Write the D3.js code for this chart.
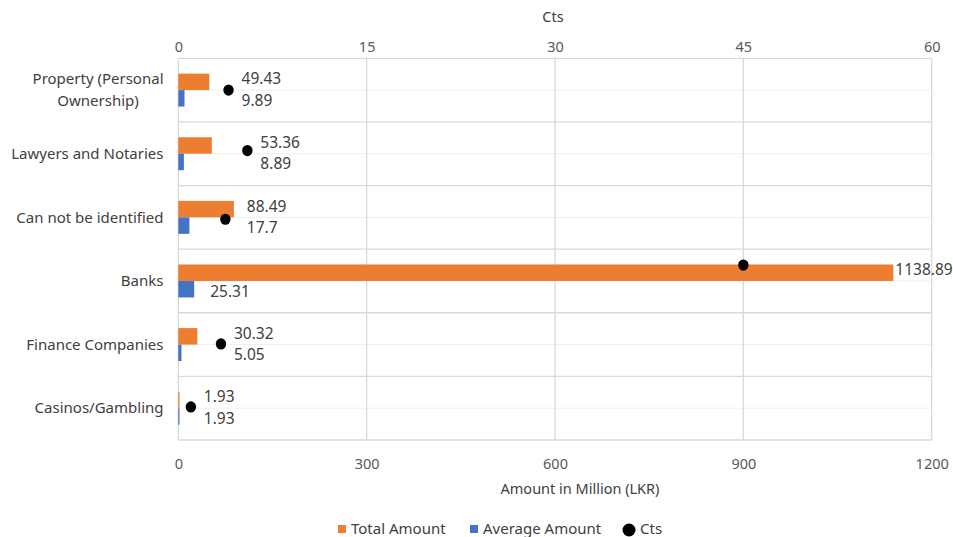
<!DOCTYPE html>
<html>
<head>
<meta charset="utf-8">
<script src="https://cdn.jsdelivr.net/npm/d3@7"></script>
<style>
  body { margin: 0; background: #fff; }
  text { font-family: "Noto Sans", sans-serif; }
</style>
</head>
<body>
<svg id="chart" width="953" height="537"></svg>
<script>
// Sectors, in display order (top to bottom)
const categories = [
  "Property (Personal Ownership)",
  "Lawyers and Notaries",
  "Can not be identified",
  "Banks",
  "Finance Companies",
  "Casinos/Gambling"
];
// Amounts in million LKR
const totalAmount   = [49.43, 53.36, 88.49, 1138.89, 30.32, 1.93];
const averageAmount = [9.89, 8.89, 17.7, 25.31, 5.05, 1.93];
// Cts series (secondary axis) and its vertical level on a 0–6 secondary scale
const cts      = [4, 5.5, 3.75, 45, 3.4, 1];
const ctsLevel = [5.5, 4.55, 3.47, 2.75, 1.51, 0.52];
// Axis ticks
const amountTicks = [0, 300, 600, 900, 1200];
const ctsTicks    = [0, 15, 30, 45, 60];
const seriesNames = ["Total Amount", "Average Amount", "Cts"];

const ORANGE = "#ED7D31", BLUE = "#4472C4", GRID = "#d9d9d9", TEXT = "#404040", TICK = "#595959";

const svg = d3.select("#chart");
const plot = { left: 178.3, right: 931.7, top: 58.3, bottom: 440 };

const x = d3.scaleLinear().domain([0, 1200]).range([plot.left, plot.right]);
const xCts = d3.scaleLinear().domain([0, 60]).range([plot.left, plot.right]);
const y0 = d3.scaleBand().domain(categories).range([plot.top, plot.bottom]);
const y1 = d3.scaleBand().domain(["total", "avg"]).range([0, y0.bandwidth()]).paddingOuter(0.93);
const yLevel = d3.scaleLinear().domain([0, 6]).range([plot.bottom, plot.top]);

// Faint centre lines of each category band
svg.append("g").selectAll("line").data(categories).join("line")
  .attr("x1", plot.left).attr("x2", plot.right)
  .attr("y1", d => y0(d) + y0.bandwidth() / 2).attr("y2", d => y0(d) + y0.bandwidth() / 2)
  .attr("stroke", "#efefef").attr("stroke-width", 1);

// Category separators and plot frame
const sepYs = categories.map(d => y0(d)).concat([plot.bottom]);
svg.append("g").selectAll("line").data(sepYs).join("line")
  .attr("x1", plot.left).attr("x2", plot.right)
  .attr("y1", d => d).attr("y2", d => d)
  .attr("stroke", GRID).attr("stroke-width", 1.3);
svg.append("g").selectAll("line").data(amountTicks).join("line")
  .attr("x1", d => x(d)).attr("x2", d => x(d))
  .attr("y1", plot.top).attr("y2", plot.bottom)
  .attr("stroke", GRID).attr("stroke-width", 1.3);

// Bars
const rows = categories.map((c, i) => ({
  cat: c, total: totalAmount[i], avg: averageAmount[i], cts: cts[i], level: ctsLevel[i]
}));
const barH = y1.bandwidth();
svg.append("g").selectAll("rect").data(rows).join("rect")
  .attr("x", x(0)).attr("y", d => y0(d.cat) + y1("total"))
  .attr("width", d => x(d.total) - x(0)).attr("height", barH)
  .attr("fill", ORANGE);
svg.append("g").selectAll("rect").data(rows).join("rect")
  .attr("x", x(0)).attr("y", d => y0(d.cat) + y1("avg"))
  .attr("width", d => x(d.avg) - x(0)).attr("height", barH)
  .attr("fill", BLUE);

// Cts markers
svg.append("g").selectAll("ellipse").data(rows).join("ellipse")
  .attr("cx", d => xCts(d.cts)).attr("cy", d => yLevel(d.level))
  .attr("rx", 5.2).attr("ry", 5.6).attr("fill", "#000");

// Value labels: placed clear of the Cts marker when it sits near the bar ends
function labelX(d, which) {
  const totalEnd = x(d.total), avgEnd = x(d.avg), dotX = xCts(d.cts);
  if (Math.abs(dotX - totalEnd) < 100) return Math.max(totalEnd, avgEnd, dotX) + 13;
  return which === "total" ? totalEnd + 2 : avgEnd + 16;
}
const lab = svg.append("g").attr("font-size", "15.5px").attr("fill", TEXT);
lab.selectAll("text.t").data(rows).join("text").attr("class", "t")
  .attr("x", d => labelX(d, "total"))
  .attr("y", d => y0(d.cat) + y1("total") + barH / 2 - 3)
  .attr("dy", "0.35em").text(d => d.total);
lab.selectAll("text.a").data(rows).join("text").attr("class", "a")
  .attr("x", d => labelX(d, "avg"))
  .attr("y", d => y0(d.cat) + y1("avg") + barH / 2 + 2)
  .attr("dy", "0.35em").text(d => d.avg);

// Category labels, wrapped to fit the left margin; wrapped lines are centred as a block
const labelRight = 163.5;
const catG = svg.append("g").attr("font-size", "15px").attr("fill", TEXT);
categories.forEach(c => {
  const probe = catG.append("text").attr("visibility", "hidden");
  const measure = s => { probe.text(s); return probe.node().getComputedTextLength(); };
  const words = c.split(" ");
  const lines = [];
  let line = [];
  words.forEach(w => {
    const trial = line.concat([w]).join(" ");
    if (line.length && measure(trial) > 158) {
      lines.push(line.join(" "));
      line = [w];
    } else line.push(w);
  });
  lines.push(line.join(" "));
  const maxW = d3.max(lines, measure);
  probe.remove();
  const cx = labelRight - maxW / 2;
  const cy = y0(c) + y0.bandwidth() / 2;
  const lh = 22;
  const t = catG.append("text").attr("text-anchor", "middle");
  lines.forEach((l, k) => {
    t.append("tspan").attr("x", cx)
      .attr("y", cy + (k - (lines.length - 1) / 2) * lh)
      .attr("dy", "0.35em").text(l);
  });
});

// Axes
const axB = svg.append("g").attr("transform", `translate(0,${plot.bottom})`)
  .call(d3.axisBottom(x).tickValues(amountTicks).tickSize(0).tickPadding(19).tickFormat(d3.format("d")));
const axT = svg.append("g").attr("transform", `translate(0,${plot.top})`)
  .call(d3.axisTop(xCts).tickValues(ctsTicks).tickSize(0).tickPadding(6).tickFormat(d3.format("d")));
[axB, axT].forEach(a => {
  a.select(".domain").remove();
  a.selectAll("text").attr("fill", TICK).attr("font-size", "14.5px")
    .attr("font-family", "\"Noto Sans\", sans-serif");
});

// Axis titles
svg.append("text").attr("x", 580).attr("y", 489).attr("dy", "0.35em")
  .attr("text-anchor", "middle").attr("font-size", "14.5px").attr("fill", TEXT)
  .text("Amount in Million (LKR)");
svg.append("text").attr("x", 553).attr("y", 17).attr("dy", "0.35em")
  .attr("text-anchor", "middle").attr("font-size", "14.5px").attr("fill", TEXT)
  .text("Cts");

// Legend
const leg = svg.append("g").attr("font-size", "15px").attr("fill", TEXT);
const legY = 529;
const legItems = [
  { name: seriesNames[0], x: 338, kind: "rect", color: ORANGE },
  { name: seriesNames[1], x: 470, kind: "rect", color: BLUE },
  { name: seriesNames[2], x: 622, kind: "dot", color: "#000" }
];
legItems.forEach(it => {
  if (it.kind === "rect") {
    leg.append("rect").attr("x", it.x).attr("y", legY - 4).attr("width", 8).attr("height", 8).attr("fill", it.color);
    leg.append("text").attr("x", it.x + 13).attr("y", legY).attr("dy", "0.35em").text(it.name);
  } else {
    leg.append("circle").attr("cx", it.x + 7).attr("cy", legY + 1).attr("r", 6.5).attr("fill", it.color);
    leg.append("text").attr("x", it.x + 18).attr("y", legY).attr("dy", "0.35em").text(it.name);
  }
});
</script>
</body>
</html>
